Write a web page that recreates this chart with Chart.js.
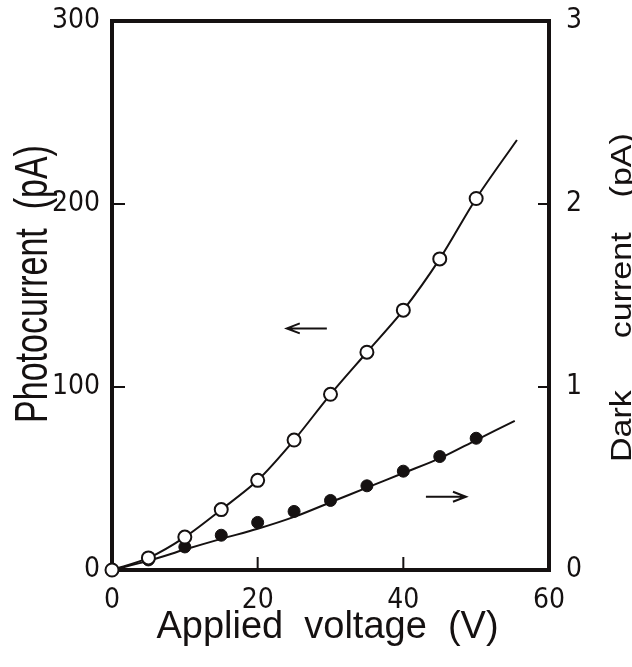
<!DOCTYPE html>
<html>
<head>
<meta charset="utf-8">
<script src="https://cdn.jsdelivr.net/npm/chart.js@4.4.1/dist/chart.umd.min.js"></script>
<style>
    html, body { margin: 0; padding: 0; background: #fff; }
    #wrap { width: 632px; height: 667px; }
</style>
</head>
<body>
<div id="wrap"><canvas id="chart" width="632" height="667"></canvas></div>
<script>
// open circles - photocurrent (left axis, pA)
const voltage = [0, 5, 10, 15, 20, 25, 30, 35, 40, 45, 50];
const photoCurrent = [0, 6.6, 18, 33, 49, 71, 96, 119, 142, 170, 203];

// filled circles - dark current (right axis)
const darkVoltage = [5, 10, 15, 20, 25, 30, 35, 40, 45, 50];
const darkCurrent = [0.055, 0.126, 0.19, 0.26, 0.32, 0.38, 0.46, 0.54, 0.62, 0.72];

// drawn curves
const photoCurveV = [0, 5, 10, 15, 20, 25, 30, 35, 40, 45, 50, 55.6];
const photoCurve = [0, 6.6, 18, 33, 49, 71, 96, 119, 142, 170, 203, 235];
const darkCurveV = [0, 5, 10, 15, 20, 25, 30, 35, 40, 45, 50, 55.3];
const darkCurve = [0, 0.05, 0.112, 0.17, 0.225, 0.29, 0.37, 0.45, 0.53, 0.61, 0.71, 0.815];

// tick labels
const xTicks = [0, 20, 40, 60];
const leftTicks = [0, 100, 200, 300];
const rightTicks = [0, 1, 2, 3];

const INK = '#151111';
const tickFont = '"DejaVu Sans Condensed", "Liberation Sans", sans-serif';
const titleFont = '"Liberation Sans", Arial, sans-serif';

const pts = (xs, ys) => xs.map((x, i) => ({ x: x, y: ys[i] }));

const decorations = {
    id: 'decorations',
    beforeDatasetsDraw(chart) {
        const { ctx, chartArea: a, scales } = chart;
        ctx.save();
        ctx.strokeStyle = INK;
        ctx.lineWidth = 4;
        ctx.strokeRect(a.left, a.top, a.right - a.left, a.bottom - a.top);

        // inward tick marks
        ctx.lineWidth = 2;
        ctx.beginPath();
        xTicks.slice(1, -1).forEach(v => {
            const px = scales.x.getPixelForValue(v);
            ctx.moveTo(px, a.bottom);
            ctx.lineTo(px, a.bottom - 13);
        });
        leftTicks.slice(1, -1).forEach(v => {
            const py = scales.y.getPixelForValue(v);
            ctx.moveTo(a.left, py);
            ctx.lineTo(a.left + 13, py);
        });
        rightTicks.slice(1, -1).forEach(v => {
            const py = scales.y1.getPixelForValue(v);
            ctx.moveTo(a.right, py);
            ctx.lineTo(a.right - 11, py);
        });
        ctx.stroke();
        ctx.restore();
    },
    afterDraw(chart) {
        const { ctx, chartArea: a, scales } = chart;
        ctx.save();
        ctx.strokeStyle = INK;
        ctx.fillStyle = INK;
        ctx.lineWidth = 2;

        // arrows pointing to the axis each curve belongs to
        const arrow = (x1, x2, y, dir) => {
            ctx.beginPath();
            ctx.moveTo(x1, y);
            ctx.lineTo(x2, y);
            const tip = dir < 0 ? x1 : x2;
            ctx.moveTo(tip - dir * 13, y - 5);
            ctx.lineTo(tip, y);
            ctx.lineTo(tip - dir * 13, y + 5);
            ctx.stroke();
        };
        arrow(scales.x.getPixelForValue(24), scales.x.getPixelForValue(29.5), scales.y.getPixelForValue(132), -1);
        arrow(scales.x.getPixelForValue(43.1), scales.x.getPixelForValue(48.6), scales.y1.getPixelForValue(0.4), 1);

        // axis titles
        ctx.textBaseline = 'alphabetic';
        ctx.font = '38px ' + titleFont;
        ctx.textAlign = 'center';
        ctx.fillText('Applied  voltage  (V)', (a.left + a.right) / 2 - 3, 638);

        // vertical titles (glyph height differs from width in the original scan)
        ctx.font = '34px ' + titleFont;
        ctx.save();
        ctx.translate(47, 284);
        ctx.rotate(-Math.PI / 2);
        ctx.scale(1, 1.35);
        ctx.fillText('Photocurrent  (pA)', 0, 0);
        ctx.restore();

        ctx.save();
        ctx.translate(631, 0);
        ctx.rotate(-Math.PI / 2);
        ctx.scale(1, 0.85);
        ctx.textAlign = 'left';
        const words = ['Dark', 'current', '(pA)'];
        const gaps = [52, 35];
        let pos = -462;
        words.forEach((w, i) => {
            ctx.fillText(w, pos, 0);
            pos += ctx.measureText(w).width + (gaps[i] || 0);
        });
        ctx.restore();

        ctx.restore();
    }
};

const noPad = s => { s.paddingTop = 0; s.paddingBottom = 0; s.paddingLeft = 0; s.paddingRight = 0; };

const ctx = document.getElementById('chart').getContext('2d');
new Chart(ctx, {
    type: 'scatter',
    data: {
        datasets: [
            {
                label: 'Photocurrent',
                data: pts(voltage, photoCurrent),
                yAxisID: 'y',
                pointRadius: 6.5,
                pointBackgroundColor: '#fff',
                pointBorderColor: INK,
                pointBorderWidth: 2,
                showLine: false,
                clip: false,
                order: 0
            },
            {
                label: 'Dark current',
                data: pts(darkVoltage, darkCurrent),
                yAxisID: 'y1',
                pointRadius: 6,
                pointBackgroundColor: INK,
                pointBorderColor: INK,
                pointBorderWidth: 1,
                showLine: false,
                clip: false,
                order: 1
            },
            {
                label: 'Photocurrent curve',
                data: pts(photoCurveV, photoCurve),
                yAxisID: 'y',
                showLine: true,
                pointRadius: 0,
                borderColor: INK,
                borderWidth: 2,
                tension: 0.3,
                clip: false,
                order: 2
            },
            {
                label: 'Dark curve',
                data: pts(darkCurveV, darkCurve),
                yAxisID: 'y1',
                showLine: true,
                pointRadius: 0,
                borderColor: INK,
                borderWidth: 2,
                tension: 0.3,
                clip: false,
                order: 2
            }
        ]
    },
    options: {
        responsive: false,
        animation: false,
        layout: { padding: { top: 21 } },
        plugins: { legend: { display: false }, tooltip: { enabled: false } },
        scales: {
            x: {
                type: 'linear',
                min: 0, max: 60,
                grid: { display: false, drawTicks: false },
                border: { display: false },
                afterBuildTicks: s => { s.ticks = xTicks.map(v => ({ value: v })); },
                afterFit: s => { s.height = 97; noPad(s); },
                ticks: { autoSkip: false, maxRotation: 0, padding: 14, color: INK, font: { family: tickFont, size: 28 } }
            },
            y: {
                position: 'left',
                min: 0, max: 300,
                grid: { display: false, drawTicks: false },
                border: { display: false },
                afterBuildTicks: s => { s.ticks = leftTicks.map(v => ({ value: v })); },
                afterFit: s => { s.width = 112; noPad(s); },
                ticks: { padding: 12, color: INK, font: { family: tickFont, size: 28 } }
            },
            y1: {
                position: 'right',
                min: 0, max: 3,
                grid: { display: false, drawTicks: false },
                border: { display: false },
                afterBuildTicks: s => { s.ticks = rightTicks.map(v => ({ value: v })); },
                afterFit: s => { s.width = 83; noPad(s); },
                ticks: { padding: 17, color: INK, font: { family: tickFont, size: 28 } }
            }
        }
    },
    plugins: [decorations]
});
</script>
</body>
</html>
